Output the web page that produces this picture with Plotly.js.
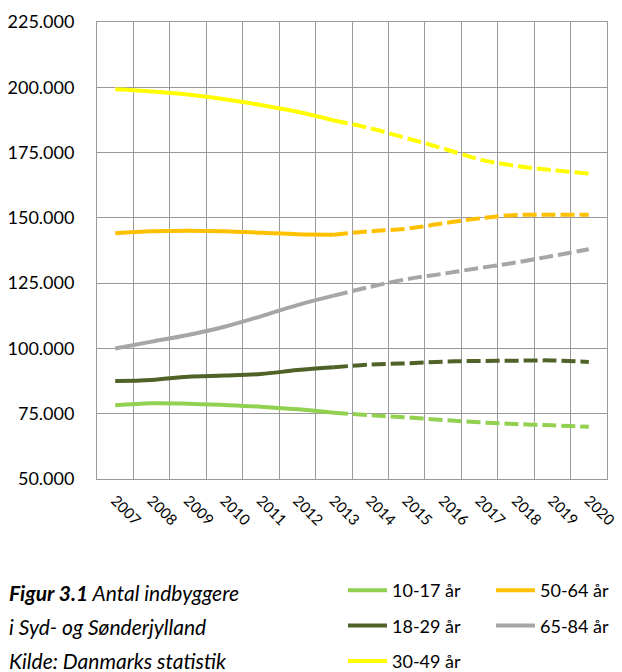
<!DOCTYPE html>
<html>
<head>
<meta charset="utf-8">
<script src="https://cdn.plot.ly/plotly-3.0.1.min.js"></script>
<style>html,body{margin:0;padding:0;background:#fff;}#chart{width:622px;height:672px;}</style>
</head>
<body>
<div id="chart"></div>
<script>
// Data
const years = ["2007","2008","2009","2010","2011","2012","2013","2014","2015","2016","2017","2018","2019","2020"];
const age10_17 = [78200, 79000, 78850, 78350, 77700, 76700, 75400, 74400, 73600, 72600, 71700, 71050, 70550, 70000];
const age18_29 = [87500, 87900, 89200, 89600, 90200, 91700, 92800, 93800, 94300, 94950, 95200, 95300, 95400, 94800];
const age30_49 = [199200, 198400, 197200, 195400, 193200, 190600, 187300, 184300, 180500, 176600, 172400, 169900, 168300, 167000];
const age50_64 = [144100, 144850, 145100, 144850, 144300, 143700, 143550, 144850, 145850, 147900, 149800, 151100, 151200, 151200];
const age65_84 = [100000, 102600, 105150, 108300, 112300, 116600, 120200, 123600, 126500, 128600, 130800, 132900, 135400, 138000];
const seriesNames = ["10-17 år", "50-64 år", "18-29 år", "65-84 år", "30-49 år"];
const lastActual = "2013";

const series = [
  {name: seriesNames[0], y: age10_17, color: "#92D050", legend: "legend"},
  {name: seriesNames[1], y: age50_64, color: "#FFC000", legend: "legend2"},
  {name: seriesNames[2], y: age18_29, color: "#4F6228", legend: "legend"},
  {name: seriesNames[3], y: age65_84, color: "#A6A6A6", legend: "legend2"},
  {name: seriesNames[4], y: age30_49, color: "#FFFF00", legend: "legend"}
];
const split = years.indexOf(lastActual);

const traces = [];
series.forEach((s, i) => {
  traces.push({
    type: "scatter", mode: "lines", name: s.name,
    x: years.slice(0, split + 1), y: s.y.slice(0, split + 1),
    line: {color: s.color, width: 4, shape: "spline", smoothing: 1},
    legend: s.legend, legendgroup: "g" + i, hoverinfo: "skip"
  });
  traces.push({
    type: "scatter", mode: "lines", name: s.name, showlegend: false,
    x: years.slice(split), y: s.y.slice(split),
    line: {color: s.color, width: 4, shape: "spline", smoothing: 1, dash: "14px,5px"},
    legend: s.legend, legendgroup: "g" + i, hoverinfo: "skip"
  });
});

const fnt = "Lato, 'Open Sans', sans-serif";
const plotTop = 22, plotBottom = 479, plotLeft = 97, plotRight = 607;
const py = (px) => (plotBottom - px) / (plotBottom - plotTop);
const pxX = (px) => (px - plotLeft) / (plotRight - plotLeft);

const legendCommon = {
  xref: "container", yref: "container", yanchor: "top", xanchor: "left",
  orientation: "v", bgcolor: "rgba(0,0,0,0)", borderwidth: 0,
  font: {family: fnt, size: 18, color: "#000"},
  tracegroupgap: 9, itemwidth: 39, traceorder: "grouped"
};

const layout = {
  width: 622, height: 672,
  margin: {l: plotLeft, r: 622 - plotRight, t: plotTop, b: 672 - plotBottom, autoexpand: false},
  paper_bgcolor: "#fff", plot_bgcolor: "#fff",
  separators: ",.",
  font: {family: fnt, color: "#000"},
  xaxis: {
    type: "category", range: [-0.5, years.length - 0.5],
    tickson: "boundaries", showgrid: true, gridcolor: "#9a9a9a", gridwidth: 1,
    showline: true, linecolor: "#9a9a9a", linewidth: 1, mirror: true,
    ticks: "", tickangle: 45, tickfont: {family: fnt, size: 15, color: "#000"},
    ticklabelstandoff: 6, zeroline: false, fixedrange: true, automargin: false
  },
  yaxis: {
    range: [50000, 225000], dtick: 25000, tick0: 50000,
    tickformat: ",d", showgrid: true, gridcolor: "#9a9a9a", gridwidth: 1,
    showline: true, linecolor: "#9a9a9a", linewidth: 1, mirror: true,
    ticks: "", tickfont: {family: fnt, size: 18, color: "#000"},
    ticklabelstandoff: 18, zeroline: false, fixedrange: true, automargin: false
  },
  legend: Object.assign({}, legendCommon, {x: 343 / 622, y: 1 - 572 / 672}),
  legend2: Object.assign({}, legendCommon, {x: 491 / 622, y: 1 - 572 / 672}),
  annotations: [
    {text: "<i><b>Figur 3.1</b> Antal indbyggere</i>", y: py(592)},
    {text: "<i>i Syd- og Sønderjylland</i>", y: py(626)},
    {text: "<i>Kilde: Danmarks statistik</i>", y: py(660)}
  ].map(a => Object.assign({
    xref: "paper", yref: "paper", x: pxX(7), xanchor: "left", yanchor: "middle",
    showarrow: false, align: "left", font: {family: fnt, size: 21, color: "#000"}
  }, a))
};

Plotly.newPlot("chart", traces, layout, {displayModeBar: false, staticPlot: true});
</script>
</body>
</html>
